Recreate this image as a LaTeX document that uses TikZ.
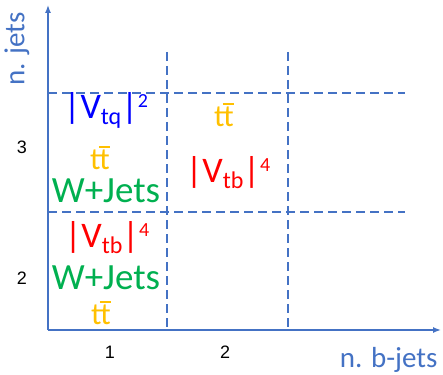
\documentclass[tikz,border=0pt]{standalone}
\usepackage{fontspec}
\usetikzlibrary{arrows.meta}
\setmainfont{Carlito}
\newfontfamily\numfont{Liberation Sans}
\definecolor{axisblue}{HTML}{4472C4}
\definecolor{vtqblue}{HTML}{0000FF}
\definecolor{ttorange}{HTML}{FFC000}
\definecolor{wjgreen}{HTML}{00B050}
\definecolor{vtbred}{HTML}{FF0000}
\newcommand{\subidx}[1]{\raisebox{-6pt}{\fontsize{24}{26}\selectfont #1}}
\newcommand{\supidx}[1]{\raisebox{11pt}{\fontsize{20}{22}\selectfont #1}}
\newcommand{\ttbar}{tt\llap{\raisebox{22pt}{\rule{11pt}{1.6pt}}}}
\begin{document}
\begin{tikzpicture}[x=1pt,y=-1pt,
  axisline/.style={draw=axisblue,line width=1.4pt,-{Latex[length=8pt,width=6pt]}},
  gridline/.style={draw=axisblue,line width=1.1pt,dash pattern=on 9pt off 5pt},
  ticklab/.style={font=\numfont\fontsize{18}{20}\selectfont,text=black},
  axislab/.style={font=\fontsize{29}{31}\selectfont,text=axisblue},
  proc/.style={font=\fontsize{37}{39}\selectfont,inner sep=0pt},
  vlab/.style={font=\fontsize{36}{38}\selectfont,inner sep=0pt},
  ttlab/.style={font=\fontsize{31}{33}\selectfont,text=ttorange,inner sep=0pt}]
\useasboundingbox (0,0) rectangle (443,374);
\coordinate (O) at (48,330);
\coordinate (Ytop) at (48,5);
\coordinate (Xend) at (441,330);
\coordinate (h1a) at (48,93); \coordinate (h1b) at (405,93);
\coordinate (h2a) at (48,212); \coordinate (h2b) at (405,212);
\coordinate (v1a) at (167,52); \coordinate (v1b) at (167,330);
\coordinate (v2a) at (288,52); \coordinate (v2b) at (288,330);
\draw[gridline] (h1a) -- (h1b);
\draw[gridline] (h2a) -- (h2b);
\draw[gridline] (v1a) -- (v1b);
\draw[gridline] (v2a) -- (v2b);
\draw[axisline] (O) -- (Ytop);
\draw[axisline] (O) -- (Xend);
\node[axislab,rotate=90] (ylab) at (17,49) {n. jets};
\node[axislab,anchor=east] (xlab) at (441,360) {n. b-jets};
\node[ticklab] (t3) at (22,147) {3};
\node[ticklab] (t2) at (22,278) {2};
\node[ticklab] (b1) at (110,352) {1};
\node[ticklab] (b2) at (225,352) {2};
% cell (1,3)
\node[vlab,text=vtqblue] (vtq) at (106,110) {|V\subidx{tq}|\supidx{2}};
\node[ttlab] (tt1) at (100,158) {\ttbar};
\node[proc,text=wjgreen] (wj1) at (106,191) {W+Jets};
% cell (1,2)
\node[vlab,text=vtbred] (vtb1) at (107,238) {|V\subidx{tb}|\supidx{4}};
\node[proc,text=wjgreen] (wj2) at (106,278) {W+Jets};
\node[ttlab] (tt2) at (101,313) {\ttbar};
% cell (2,3)
\node[ttlab] (tt3) at (224,115) {\ttbar};
\node[vlab,text=vtbred] (vtb2) at (228,173) {|V\subidx{tb}|\supidx{4}};
\end{tikzpicture}
\end{document}
